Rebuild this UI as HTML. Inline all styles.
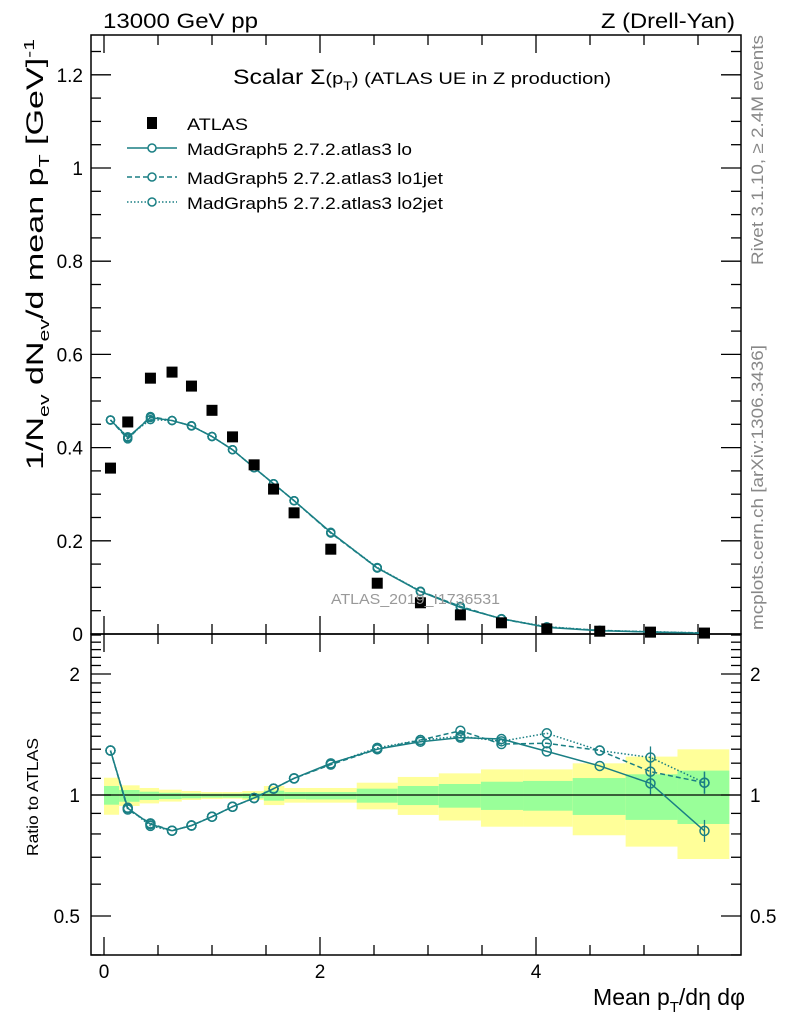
<!DOCTYPE html>
<html><head><meta charset="utf-8"><style>
html,body{margin:0;padding:0;background:#fff;}
svg{display:block;font-family:"Liberation Sans",sans-serif;}
</style></head><body>
<svg id="chart" width="786" height="1024" viewBox="0 0 786 1024" xmlns="http://www.w3.org/2000/svg">
<g id="bands"></g>
<g id="grid"></g>
<g id="series"></g>
<text x="103" y="28" font-size="21" textLength="155" lengthAdjust="spacingAndGlyphs">13000 GeV pp</text>
<text x="601" y="28" font-size="21" textLength="134" lengthAdjust="spacingAndGlyphs">Z (Drell-Yan)</text>
<text transform="translate(233,84) scale(1.18,1)" font-size="21">Scalar Σ<tspan font-size="17">(p</tspan><tspan font-size="12" dy="6">T</tspan><tspan font-size="17" dy="-6">)</tspan><tspan font-size="17"> (ATLAS UE in Z production)</tspan></text>
<g>
<rect x="147" y="117" width="10" height="12" fill="#000"/>
<text x="187" y="130" font-size="17" textLength="61" lengthAdjust="spacingAndGlyphs">ATLAS</text>
<line x1="127" y1="148" x2="177" y2="148" stroke="#1a7f84" stroke-width="1.5"/>
<circle cx="152" cy="148" r="4" fill="#fff" stroke="#1a7f84" stroke-width="1.5"/>
<text x="187" y="155" font-size="17" textLength="225" lengthAdjust="spacingAndGlyphs">MadGraph5 2.7.2.atlas3 lo</text>
<line x1="127" y1="177" x2="177" y2="177" stroke="#1a7f84" stroke-width="1.5" stroke-dasharray="5,3"/>
<circle cx="152" cy="177" r="4" fill="#fff" stroke="#1a7f84" stroke-width="1.5"/>
<text x="187" y="184" font-size="17" textLength="256" lengthAdjust="spacingAndGlyphs">MadGraph5 2.7.2.atlas3 lo1jet</text>
<line x1="127" y1="202" x2="177" y2="202" stroke="#1a7f84" stroke-width="1.5" stroke-dasharray="1.5,2"/>
<circle cx="152" cy="202" r="4" fill="#fff" stroke="#1a7f84" stroke-width="1.5"/>
<text x="187" y="209" font-size="17" textLength="256" lengthAdjust="spacingAndGlyphs">MadGraph5 2.7.2.atlas3 lo2jet</text>
</g>
<text x="331" y="604" font-size="15" fill="#999" textLength="169" lengthAdjust="spacingAndGlyphs">ATLAS_2019_I1736531</text>
<text transform="translate(763,265) rotate(-90)" font-size="17" fill="#888" textLength="230" lengthAdjust="spacingAndGlyphs">Rivet 3.1.10, ≥ 2.4M events</text>
<text transform="translate(763,630) rotate(-90)" font-size="17" fill="#888" textLength="285" lengthAdjust="spacingAndGlyphs">mcplots.cern.ch [arXiv:1306.3436]</text>
<text transform="translate(43,470) rotate(-90) scale(1.42,1)" font-size="24">1/N<tspan font-size="15" dy="6">ev</tspan><tspan dy="-6"> dN</tspan><tspan font-size="15" dy="6">ev</tspan><tspan dy="-6">/d mean p</tspan><tspan font-size="15" dy="6">T</tspan><tspan dy="-6">  [GeV]</tspan><tspan font-size="15" dy="-9">-1</tspan></text>
<text transform="translate(38,856) rotate(-90)" font-size="16" textLength="118" lengthAdjust="spacingAndGlyphs">Ratio to ATLAS</text>
<text x="745" y="1005" font-size="23" text-anchor="end">Mean p<tspan font-size="15" dy="7">T</tspan><tspan dy="-7">/dη dφ</tspan></text>
</svg>
<script>
const xs = [0.06,0.22,0.43,0.63,0.81,1.0,1.19,1.39,1.57,1.76,2.1,2.53,2.93,3.3,3.68,4.1,4.59,5.06,5.56];
const edges = [0,0.14,0.33,0.51,0.72,0.9,1.1,1.28,1.48,1.67,1.87,2.34,2.72,3.1,3.49,3.88,4.34,4.83,5.31,5.79];
const atlas = [0.356,0.455,0.549,0.562,0.532,0.48,0.423,0.363,0.311,0.26,0.182,0.109,0.067,0.041,0.024,0.011,0.006,0.004,0.002];
const ratioLo = [1.29,0.927,0.846,0.815,0.839,0.883,0.935,0.983,1.037,1.10,1.199,1.30,1.357,1.389,1.378,1.284,1.181,1.069,0.814];
const ratioLo1 = [1.29,0.92,0.85,0.815,0.84,0.883,0.935,0.983,1.037,1.10,1.19,1.30,1.37,1.445,1.339,1.345,1.29,1.143,1.073];
const ratioLo2 = [1.29,0.93,0.838,0.815,0.84,0.883,0.935,0.983,1.037,1.10,1.195,1.31,1.37,1.40,1.36,1.424,1.29,1.24,1.073];
const yelUp = [1.104,1.057,1.041,1.031,1.023,1.017,1.017,1.023,1.053,1.041,1.041,1.073,1.109,1.132,1.158,1.158,1.199,1.246,1.299];
const yelDn = [0.893,0.939,0.953,0.963,0.972,0.977,0.979,0.972,0.944,0.957,0.957,0.921,0.892,0.864,0.834,0.834,0.794,0.744,0.693];
const grnUp = [1.053,1.029,1.019,1.013,1.010,1.008,1.008,1.010,1.025,1.017,1.017,1.037,1.053,1.065,1.079,1.084,1.102,1.126,1.150];
const grnDn = [0.946,0.962,0.972,0.977,0.981,0.985,0.985,0.981,0.968,0.977,0.975,0.957,0.944,0.930,0.918,0.914,0.892,0.867,0.847];
const mainTicks = [0,0.2,0.4,0.6,0.8,1,1.2];
const mainTickLabels = ["0","0.2","0.4","0.6","0.8","1","1.2"];
const xTicks = [0,2,4];
const xTickLabels = ["0","2","4"];
const ratioTicks = [0.5,1,2];
const ratioTickLabels = ["0.5","1","2"];

const NS="http://www.w3.org/2000/svg";
const L=91,R=741,MT=35,MB=634,RB=955;
const X=v=>104+v*108;
const Y=v=>634-v*466;
const RY=r=>795-121*Math.log2(r);
const TEAL="#1a7f84";
function mk(p,tag,at){const e=document.createElementNS(NS,tag);for(const k in at)e.setAttribute(k,at[k]);p.appendChild(e);return e;}
const bands=document.getElementById('bands'),grid=document.getElementById('grid'),ser=document.getElementById('series');
for(let i=0;i<xs.length;i++){
  const x1=X(edges[i]),x2=X(edges[i+1]);
  let e=mk(bands,'rect',{x:x1,y:RY(yelUp[i]),width:x2-x1,height:RY(yelDn[i])-RY(yelUp[i]),fill:'#ffff99'});
  
  
  e=mk(bands,'rect',{x:x1,y:RY(grnUp[i]),width:x2-x1,height:RY(grnDn[i])-RY(grnUp[i]),fill:'#99ff99'});
  
  
}
mk(grid,'line',{x1:L,x2:R,y1:RY(1),y2:RY(1),stroke:'#000','stroke-width':1.3});
mk(grid,'rect',{x:L,y:MT,width:R-L,height:MB-MT,fill:'none',stroke:'#000','stroke-width':1.5});
mk(grid,'rect',{x:L,y:MB,width:R-L,height:RB-MB,fill:'none',stroke:'#000','stroke-width':1.5});
for(let v=0;v<=5.9;v+=0.5){
  const big=Math.abs(v%2)<1e-6, x=X(v);
  const l=big?18:10;
  [[MB,-1],[MT,1],[RB,-1],[MB,1]].forEach(([y0,d])=>mk(grid,'line',{x1:x,x2:x,y1:y0,y2:y0+d*l,stroke:'#000','stroke-width':1.3}));
}
xTicks.forEach((v,i)=>{const t=mk(grid,'text',{x:X(v),y:978,'font-size':19,'text-anchor':'middle'});t.textContent=xTickLabels[i];

});
for(let k=1;k<=25;k++){const v=k*0.05,y=Y(v);if(y<MT)break;const big=k%4==0;const l=big?20:10;
  mk(grid,'line',{x1:L,x2:L+l,y1:y,y2:y,stroke:'#000','stroke-width':1.3});
  mk(grid,'line',{x1:R,x2:R-l,y1:y,y2:y,stroke:'#000','stroke-width':1.3});}
mainTicks.forEach((v,i)=>{const t=mk(grid,'text',{x:83,y:Y(v)+7,'font-size':19,'text-anchor':'end'});t.textContent=mainTickLabels[i];

});
for(let r=0.4;r<=2.55;r+=0.1){const rr=Math.round(r*10)/10;const y=RY(rr);if(y<MB||y>RB)continue;
  const big=(rr==0.5||rr==1||rr==2);const l=big?20:10;
  mk(grid,'line',{x1:L,x2:L+l,y1:y,y2:y,stroke:'#000','stroke-width':1.3});
  mk(grid,'line',{x1:R,x2:R-l,y1:y,y2:y,stroke:'#000','stroke-width':1.3});}
ratioTicks.forEach((v,i)=>{
  let t=mk(grid,'text',{x:80,y:RY(v)+7,'font-size':19,'text-anchor':'end'});t.textContent=ratioTickLabels[i];
  
  
  t=mk(grid,'text',{x:750,y:RY(v)+7,'font-size':19});t.textContent=ratioTickLabels[i];
  
  
});
const models=[[ratioLo,'none','lo'],[ratioLo1,'5,3','lo1jet'],[ratioLo2,'1.5,2','lo2jet']];
models.forEach(([rat,dash,nm])=>{
  const mp=xs.map((x,i)=>X(x)+','+Y(atlas[i]*rat[i])).join(' ');
  const rp=xs.map((x,i)=>X(x)+','+RY(rat[i])).join(' ');
  let e=mk(ser,'polyline',{points:mp,fill:'none',stroke:TEAL,'stroke-width':1.5,'stroke-dasharray':dash});
  
  
  e=mk(ser,'polyline',{points:rp,fill:'none',stroke:TEAL,'stroke-width':1.5,'stroke-dasharray':dash});
  
  
  xs.forEach((x,i)=>{
    let c=mk(ser,'circle',{cx:X(x),cy:Y(atlas[i]*rat[i]),r:4,fill:'none',stroke:TEAL,'stroke-width':1.5});
    
    
    c=mk(ser,'circle',{cx:X(x),cy:RY(rat[i]),r:4.5,fill:'none',stroke:TEAL,'stroke-width':1.5});
    
    
    if(i>=17){mk(ser,'line',{x1:X(x),x2:X(x),y1:RY(rat[i])-11,y2:RY(rat[i])+11,stroke:TEAL,'stroke-width':1.3});}
  });
});
atlas.forEach((v,i)=>{const s=mk(ser,'rect',{x:X(xs[i])-5.5,y:Y(v)-5.5,width:11,height:11,fill:'#000'});

});
</script>
</body></html>
